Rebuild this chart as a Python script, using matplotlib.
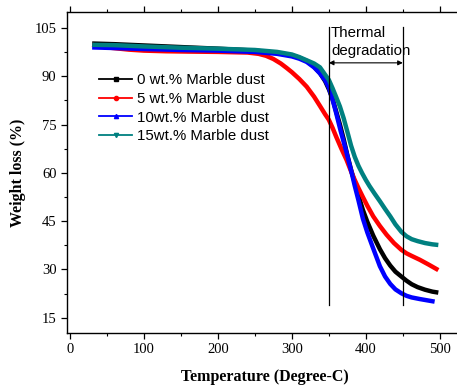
import matplotlib
matplotlib.use("Agg")
import matplotlib.pyplot as plt
from matplotlib.lines import Line2D
from matplotlib.ticker import MultipleLocator

# ---- data ----
t_0 = [30, 60, 100, 150, 200, 250, 280, 300, 310, 320, 330, 338, 345, 350, 355, 360, 365, 370, 375,
       380, 385, 390, 396, 402, 410, 419, 426, 433, 440, 448, 455, 462, 470, 480, 490, 498]
w_0 = [100.2, 100.0, 99.6, 99.1, 98.6, 98.0, 97.3, 96.5, 95.8, 94.8, 93.0, 91.0, 88.5, 86.0, 83.0, 79.0, 75.0, 70.5, 65.5,
       61.0, 57.0, 53.0, 48.5, 44.8, 40.5, 36.3, 33.5, 31.2, 29.3, 27.8, 26.5, 25.4, 24.5, 23.7, 23.1, 22.8]

t_5 = [30, 50, 80, 100, 130, 160, 200, 240, 255, 265, 275, 285, 293, 300, 310, 320, 330, 338, 345, 350,
       355, 360, 367, 374, 380, 385, 390, 396, 402, 410, 419, 428, 438, 448, 455, 462, 473, 485, 498]
w_5 = [99.8, 99.0, 98.3, 98.0, 97.8, 97.7, 97.6, 97.4, 97.0, 96.4, 95.4, 94.0, 92.6, 91.3, 89.2, 86.8, 83.7, 80.8, 78.2, 76.5,
       74.0, 71.2, 67.5, 64.0, 60.5, 57.8, 55.3, 52.5, 49.8, 46.5, 43.5, 40.8, 38.2, 36.1, 35.0, 34.2, 33.0, 31.5, 29.8]

t_10 = [30, 60, 100, 150, 200, 250, 280, 300, 310, 320, 330, 338, 345, 350, 355, 360, 366, 372, 377, 381,
        385, 390, 396, 402, 410, 419, 426, 433, 440, 448, 455, 462, 473, 483, 493]
w_10 = [99.0, 98.8, 98.5, 98.2, 98.0, 97.6, 97.0, 96.2, 95.5, 94.5, 92.8, 90.9, 88.8, 86.5, 82.8, 78.5, 73.0, 68.0, 63.5, 59.9,
        56.0, 51.5, 45.8, 41.5, 36.5, 31.0, 27.8, 25.5, 23.8, 22.6, 21.8, 21.3, 20.8, 20.4, 20.0]

t_15 = [30, 60, 100, 150, 200, 250, 280, 300, 310, 320, 330, 338, 345, 350, 355, 360, 365, 370, 375, 380,
        385, 390, 395, 400, 405, 412, 419, 426, 433, 440, 448, 455, 462, 470, 480, 490, 498]
w_15 = [99.8, 99.7, 99.3, 98.9, 98.6, 98.2, 97.6, 96.8, 96.0, 95.0, 94.0, 92.8, 90.5, 88.9, 86.3, 83.5, 80.6, 77.0, 72.8, 68.5,
        65.0, 62.2, 59.9, 57.8, 55.9, 53.5, 51.2, 48.8, 46.5, 44.0, 41.7, 40.3, 39.4, 38.8, 38.2, 37.8, 37.6]

labels = ["0 wt.% Marble dust", "5 wt.% Marble dust", "10wt.% Marble dust", "15wt.% Marble dust"]
colors = ["#000000", "#FF0000", "#0000FF", "#008080"]
markers = ["s", "o", "^", "v"]

region_x = [350, 450]
region_y = [18.9, 105.4]
arrow_y = 94.2

xticks = [0, 100, 200, 300, 400, 500]
yticks = [15, 30, 45, 60, 75, 90, 105]

# ---- figure ----
W, H = 457, 387
fig = plt.figure(figsize=(W / 100, H / 100), dpi=100)
ax = fig.add_axes([67 / W, 1 - 333 / H, (462 - 67) / W, (333 - 12) / H])

series = [(t_0, w_0), (t_5, w_5), (t_10, w_10), (t_15, w_15)]
for (t, w), c in zip(series, colors):
    ax.plot(t, w, color=c, lw=3.2, solid_capstyle="butt", solid_joinstyle="round")

for xv in region_x:
    ax.plot([xv, xv], region_y, color="black", lw=0.9)
ax.annotate("", xy=(region_x[0], arrow_y), xytext=(region_x[1], arrow_y),
            arrowprops=dict(arrowstyle="<|-|>", color="black", lw=0.8,
                            mutation_scale=7, shrinkA=0, shrinkB=0))
ax.text(region_x[0] + 3, 105.8, "Thermal\ndegradation", ha="left", va="top",
        fontsize=10.8, family="Liberation Sans", linespacing=1.42)

ax.set_xlim(-4, 530)
ax.set_ylim(10.25, 110)
ax.set_xticks(xticks)
ax.set_yticks(yticks)
ax.xaxis.set_minor_locator(MultipleLocator(50))
ax.yaxis.set_minor_locator(MultipleLocator(7.5))
ax.tick_params(axis="both", which="major", direction="out", length=4, width=0.9,
               labelsize=10.5)
ax.tick_params(axis="both", which="minor", direction="out", length=2, width=0.8)
ax.tick_params(axis="x", which="both", top=True)
for lab in ax.get_xticklabels() + ax.get_yticklabels():
    lab.set_family("Liberation Serif")
ax.spines["right"].set_visible(False)
for s in ["left", "bottom", "top"]:
    ax.spines[s].set_linewidth(1.0)

ax.set_xlabel("Temperature (Degree-C)", family="Liberation Serif", fontweight="bold",
              fontsize=11.5, labelpad=9)
ax.set_ylabel("Weight loss (%)", family="Liberation Serif", fontweight="bold",
              fontsize=11.5, labelpad=6)

handles = [Line2D([0], [0], color=c, lw=1.3, marker=m, markersize=3)
           for c, m in zip(colors, markers)]
leg = fig.legend(handles, labels, loc="upper left",
                 bbox_to_anchor=(99 / W, 1 - 73 / H), frameon=False,
                 prop={"family": "Liberation Sans", "size": 10.8},
                 handlelength=2.2, handletextpad=0.35, labelspacing=0.32,
                 borderpad=0, borderaxespad=0)

fig.savefig("out.png", dpi=100)
